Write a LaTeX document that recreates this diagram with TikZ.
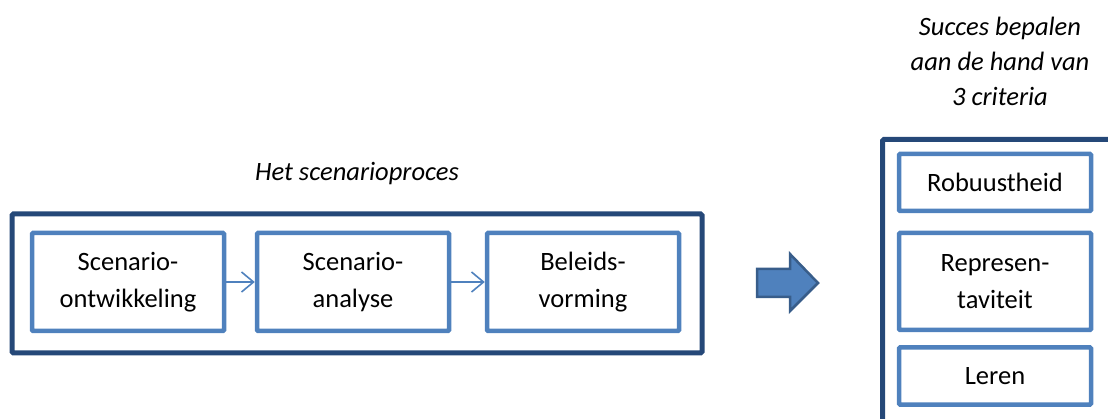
\documentclass[tikz,border=0pt]{standalone}
\usepackage{fontspec}
\setmainfont{Carlito}
\usetikzlibrary{arrows.meta}
\definecolor{lightblue}{RGB}{79,129,189}
\definecolor{darkblue}{RGB}{37,72,120}
\definecolor{arrowedge}{RGB}{56,93,138}
\tikzset{
  frame/.style={draw=darkblue, line width=5pt, rounded corners=1.5pt, fill=none},
  stagebox/.style={draw=lightblue, line width=4.5pt, rounded corners=1pt,
    minimum width=192pt, minimum height=98pt, align=center,
    font=\fontsize{26.5}{37}\selectfont, inner sep=0pt},
  critbox/.style={stagebox, minimum height=57pt},
  caption/.style={align=center, font=\fontsize{26.5}{35}\selectfont\itshape},
  flow/.style={draw=lightblue, line width=1.6pt, -{Straight Barb[length=12pt,width=20pt,line width=1.6pt]}},
}
\begin{document}
\begin{tikzpicture}[x=1pt,y=-1pt]
\useasboundingbox (0,0) rectangle (1108,419);
\clip (0,0) rectangle (1108,419);
% left frame with the three stages
\node[frame, minimum width=690pt, minimum height=139pt, inner sep=0pt] (proces) at (357,283.5) {};
\node[caption] (procestitel) at (357,174) {Het scenarioproces};
\node[stagebox] (ontw) at (128,282) {Scenario-\\ontwikkeling};
\node[stagebox] (anal) at (353,282) {Scenario-\\analyse};
\node[stagebox] (beleid) at (583,282) {Beleids-\\vorming};
\draw[flow] (ontw.east) -- (anal.west);
\draw[flow] (anal.east) -- (beleid.west);
% block arrow
\draw[fill=lightblue, draw=arrowedge, line width=2.5pt, line join=miter]
  (757,269) -- (790,269) -- (790,254) -- (818,283) -- (790,311) -- (790,297) -- (757,297) -- cycle;
% right frame with the criteria
\node[frame, anchor=north west, minimum width=260pt, minimum height=320pt, inner sep=0pt] (criteria) at (880,137) {};
\node[caption] (criteriatitel) at (1000,61) {Succes bepalen\\aan de hand van\\3 criteria};
\node[critbox] (robuust) at (995,182.5) {Robuustheid};
\node[stagebox, minimum height=97pt] (repr) at (995,281.5) {Represen-\\taviteit};
\node[critbox] (leren) at (995,376) {Leren};
\end{tikzpicture}
\end{document}
